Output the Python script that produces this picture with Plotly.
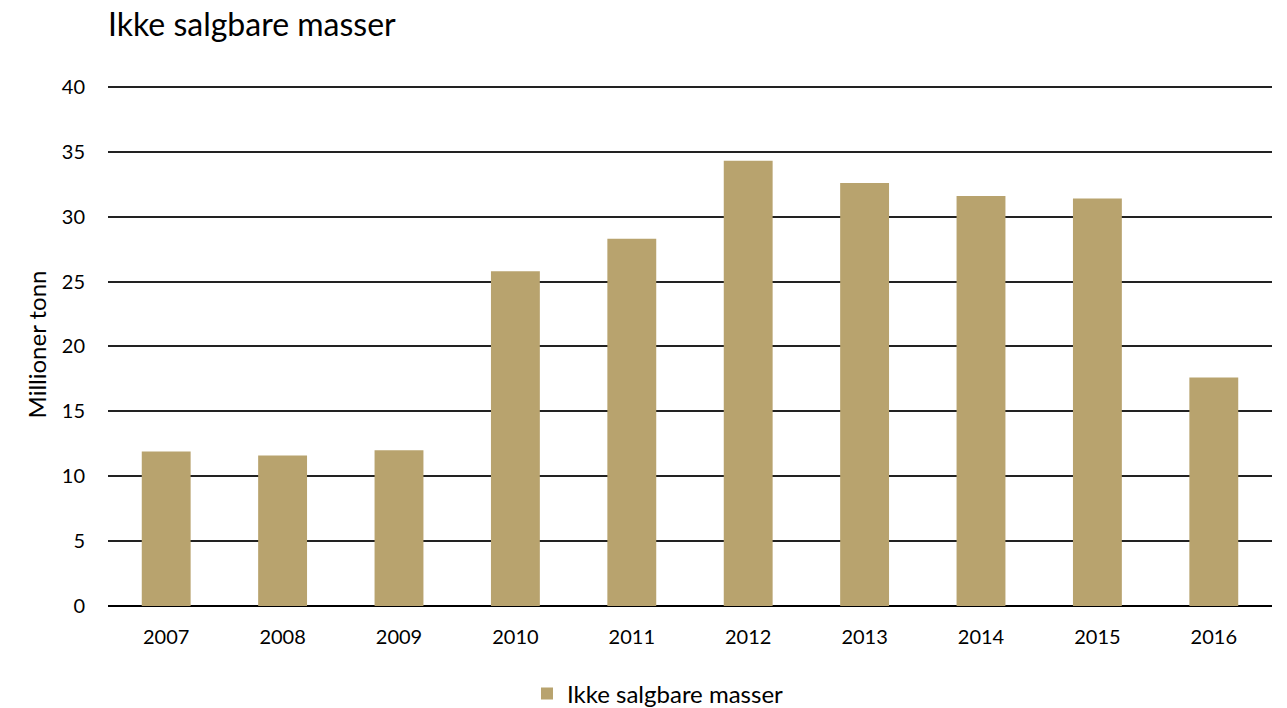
import plotly.graph_objects as go

years = ["2007", "2008", "2009", "2010", "2011", "2012", "2013", "2014", "2015", "2016"]
values = [11.9, 11.6, 12.0, 25.8, 28.3, 34.3, 32.6, 31.6, 31.4, 17.6]
series_name = "Ikke salgbare masser"
y_ticks = [0, 5, 10, 15, 20, 25, 30, 35, 40]

FONT = "Lato, Open Sans, sans-serif"

W, H = 1279, 700
L, T, R, B = 100, 75, 15, 102

fig = go.Figure()
fig.add_trace(go.Bar(
    x=years, y=values, name=series_name,
    marker=dict(color="#B8A36E", line=dict(width=0)),
))

fig.update_layout(
    width=W, height=H,
    paper_bgcolor="white", plot_bgcolor="white",
    margin=dict(l=L, r=R, t=T, b=B, autoexpand=False),
    font=dict(family=FONT, color="#000000", size=20),
    title=dict(text="Ikke salgbare masser", x=L / W, xanchor="left",
               y=1 - 17 / H, yanchor="middle", automargin=False,
               font=dict(size=32, family=FONT, color="#000000")),
    bargap=0.58,
    showlegend=True,
    legend=dict(orientation="h", x=0.4725, xanchor="center", y=-0.168, yanchor="middle",
                font=dict(size=24, family=FONT)),
    xaxis=dict(type="category", showgrid=False, showline=False, ticks="",
               automargin=False, ticklabelstandoff=17,
               tickfont=dict(size=20)),
    yaxis=dict(range=[0, 40.3], tickvals=y_ticks, showgrid=True,
               gridcolor="#222222", gridwidth=1.5, zeroline=True,
               zerolinecolor="#000000", zerolinewidth=1.5,
               showline=False, ticks="", ticklabelstandoff=22, automargin=False,
               title=dict(text="Millioner tonn", font=dict(size=24, family=FONT), standoff=8),
               tickfont=dict(size=20)),
)

fig.write_html("out.html")
